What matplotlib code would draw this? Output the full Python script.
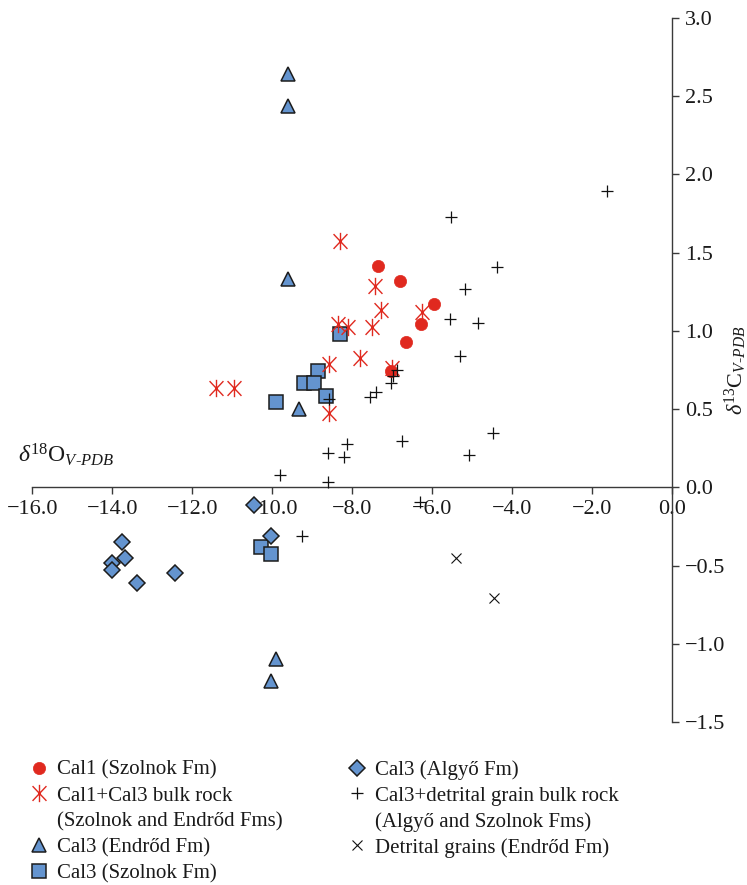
import matplotlib
matplotlib.use("Agg")
import matplotlib.pyplot as plt
from matplotlib.lines import Line2D
from matplotlib.path import Path
from matplotlib.ticker import FuncFormatter

plt.rcParams['font.family'] = ['Liberation Serif', 'DejaVu Serif']
plt.rcParams['mathtext.fontset'] = 'custom'
plt.rcParams['mathtext.rm'] = 'Liberation Serif'
plt.rcParams['mathtext.it'] = 'Liberation Serif:italic'
plt.rcParams['mathtext.bf'] = 'Liberation Serif:bold'

# delta-18O (x) and delta-13C (y), per mineral phase / formation
cal1_szolnok_x = [-7.37, -6.82, -5.97, -6.29, -6.67, -7.04]
cal1_szolnok_y = [1.416, 1.318, 1.169, 1.041, 0.928, 0.743]

bulk_cal1_cal3_x = [-8.31, -7.43, -7.28, -8.35, -8.10, -7.52, -7.81, -8.58,
                    -11.41, -10.97, -8.58, -6.25, -7.00]
bulk_cal1_cal3_y = [1.573, 1.288, 1.133, 1.045, 1.022, 1.022, 0.824, 0.786,
                    0.632, 0.632, 0.477, 1.118, 0.760]

cal3_endrod_x = [-9.60, -9.62, -9.61, -9.33, -9.91, -10.04]
cal3_endrod_y = [2.643, 2.436, 1.331, 0.500, -1.099, -1.238]

cal3_szolnok_x = [-8.32, -8.85, -9.20, -8.95, -8.66, -9.90, -10.29, -10.04]
cal3_szolnok_y = [0.979, 0.743, 0.664, 0.664, 0.585, 0.547, -0.379, -0.428]

cal3_algyo_x = [-10.47, -10.03, -13.77, -13.68, -14.01, -14.01, -13.39, -12.43]
cal3_algyo_y = [-0.113, -0.309, -0.352, -0.454, -0.486, -0.528, -0.613, -0.550]

bulk_detrital_x = [-1.64, -5.54, -4.375, -5.19, -5.56, -4.87, -5.30, -6.88,
                   -6.98, -7.04, -7.41, -7.56, -8.58, -4.49, -6.77, -8.14,
                   -8.60, -8.21, -5.09, -8.60, -9.80, -6.31, -9.25]
bulk_detrital_y = [1.895, 1.729, 1.410, 1.265, 1.073, 1.048, 0.841, 0.750,
                   0.712, 0.664, 0.607, 0.579, 0.565, 0.349, 0.298, 0.275,
                   0.221, 0.192, 0.204, 0.032, 0.078, -0.092, -0.309]

detrital_x = [-5.42, -4.45]
detrital_y = [-0.454, -0.709]

x_ticks = [-16, -14, -12, -10, -8, -6, -4, -2, 0]
y_ticks = [-1.5, -1.0, -0.5, 0.0, 0.5, 1.0, 1.5, 2.0, 2.5, 3.0]

labels = {
    'cal1': 'Cal1 (Szolnok Fm)',
    'bulk1': 'Cal1+Cal3 bulk rock',
    'bulk1b': '(Szolnok and Endrőd Fms)',
    'endrod': 'Cal3 (Endrőd Fm)',
    'szolnok': 'Cal3 (Szolnok Fm)',
    'algyo': 'Cal3 (Algyő Fm)',
    'bulk2': 'Cal3+detrital grain bulk rock',
    'bulk2b': '(Algyő and Szolnok Fms)',
    'detr': 'Detrital grains (Endrőd Fm)',
}

RED = '#E0291F'
BLUE = '#6494CF'
EDGE = '#1c1c1c'

# six-armed asterisk: an x with a vertical bar through it
asterisk = Path(
    [(-0.8, -0.85), (0.8, 0.85), (-0.8, 0.85), (0.8, -0.85), (0, -1.0), (0, 1.0)],
    [Path.MOVETO, Path.LINETO, Path.MOVETO, Path.LINETO, Path.MOVETO, Path.LINETO],
)

styles = {
    'cal1': dict(marker='o', ms=8.8, mfc=RED, mec=RED, mew=0.5, ls='none'),
    'bulk1': dict(marker=asterisk, ms=12.5, mfc='none', mec=RED, mew=1.0, ls='none'),
    'endrod': dict(marker='^', ms=10.5, mfc=BLUE, mec=EDGE, mew=1.1, ls='none'),
    'szolnok': dict(marker='s', ms=9.4, mfc=BLUE, mec=EDGE, mew=1.1, ls='none'),
    'algyo': dict(marker='D', ms=8.3, mfc=BLUE, mec=EDGE, mew=1.1, ls='none'),
    'bulk2': dict(marker='+', ms=9, mec='#111111', mew=0.9, ls='none'),
    'detr': dict(marker='x', ms=6.5, mec='#111111', mew=0.8, ls='none'),
}

fig = plt.figure(figsize=(7.47, 8.85), dpi=100)
ax = fig.add_axes([0.04324, 0.18418, 0.85676, 0.79571])

ax.plot(cal3_szolnok_x, cal3_szolnok_y, zorder=3, **styles['szolnok'])
ax.plot(cal3_endrod_x, cal3_endrod_y, zorder=3, **styles['endrod'])
ax.plot(cal3_algyo_x, cal3_algyo_y, zorder=3, **styles['algyo'])
ax.plot(bulk_cal1_cal3_x, bulk_cal1_cal3_y, zorder=4, **styles['bulk1'])
ax.plot(cal1_szolnok_x, cal1_szolnok_y, zorder=5, **styles['cal1'])
ax.plot(bulk_detrital_x, bulk_detrital_y, zorder=6, **styles['bulk2'])
ax.plot(detrital_x, detrital_y, zorder=6, **styles['detr'])

ax.set_xlim(-16, 0)
ax.set_ylim(-1.5, 3.0)

# crossing axes: x axis along d13C = 0, y axis along d18O = 0
ax.spines['left'].set_visible(False)
ax.spines['top'].set_visible(False)
ax.spines['bottom'].set_position(('data', 0))
ax.spines['right'].set_position(('data', 0))
for s in ('bottom', 'right'):
    ax.spines[s].set_color('#3a3a3a')
    ax.spines[s].set_linewidth(1.0)

ax.yaxis.tick_right()
ax.xaxis.tick_bottom()
ax.set_xticks(x_ticks)
ax.set_yticks(y_ticks)
fmt = FuncFormatter(lambda v, p: f'{v:.1f}'.replace('-', '\u2212'))
ax.xaxis.set_major_formatter(fmt)
ax.yaxis.set_major_formatter(fmt)
ax.tick_params(axis='both', direction='out', length=5, width=1.0,
               color='#3a3a3a', labelsize=16, labelcolor='#1a1a1a')
ax.tick_params(axis='x', pad=4)
ax.tick_params(axis='y', pad=4)

ax.yaxis.set_label_position('right')
ax.set_ylabel(r'$\delta^{13}\mathrm{C}_{V\text{-}PDB}$', fontsize=16, labelpad=-2,
              color='#1a1a1a')
ax.text(-16.36, 0.205, r'$\delta^{18}\mathrm{O}_{V\text{-}PDB}$', fontsize=17,
        ha='left', va='center', color='#1a1a1a', clip_on=False)

blank = Line2D([], [], ls='none', marker='none')
handles = [
    Line2D([], [], **styles['cal1']),
    Line2D([], [], **styles['bulk1']),
    blank,
    Line2D([], [], **styles['endrod']),
    Line2D([], [], **styles['szolnok']),
    Line2D([], [], **styles['algyo']),
    Line2D([], [], **styles['bulk2']),
    blank,
    Line2D([], [], **styles['detr']),
]
names = [labels[k] for k in ('cal1', 'bulk1', 'bulk1b', 'endrod', 'szolnok',
                              'algyo', 'bulk2', 'bulk2b', 'detr')]
fig.legend(handles, names, ncol=2, loc='upper left',
           bbox_to_anchor=(0.0384, 0.141), frameon=False, fontsize=15,
           numpoints=1, handlelength=1.0, handletextpad=0.35,
           columnspacing=3.1, labelspacing=0.30, borderaxespad=0,
           borderpad=0, labelcolor='#1a1a1a')

fig.savefig('out.png', dpi=100)
